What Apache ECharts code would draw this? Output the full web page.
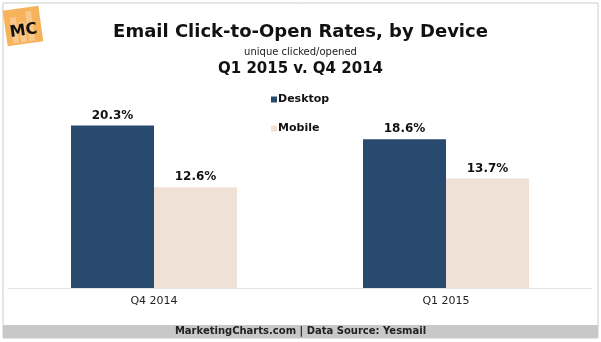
<!DOCTYPE html>
<html><head><meta charset="utf-8">
<script src="https://cdn.jsdelivr.net/npm/echarts@6/dist/echarts.min.js"></script>
<style>html,body{margin:0;padding:0;background:#fff}#c{width:601px;height:342px}</style>
</head><body><div id="c"></div>
<script>
const categories = ['Q4 2014', 'Q1 2015'];
const seriesNames = ['Desktop', 'Mobile'];
const desktopValues = [20.3, 18.6];
const mobileValues = [12.6, 13.7];

const FONT = '"DejaVu Sans", Verdana, sans-serif';
const chart = echarts.init(document.getElementById('c'), null, {renderer: 'canvas'});
const labelStyle = {show: true, position: 'top', distance: 4, fontFamily: FONT, fontWeight: 'bold', fontSize: 12, color: '#111',
  formatter: p => p.value.toFixed(1) + '%'};
chart.setOption({
  animation: false,
  backgroundColor: '#fff',
  title: [
    {text: 'Email Click-to-Open Rates, by Device', left: 'center', top: 18,
     textStyle: {fontFamily: FONT, fontWeight: 'bold', fontSize: 18, color: '#111'}},
    {text: 'unique clicked/opened', left: 'center', top: 42,
     textStyle: {fontFamily: FONT, fontWeight: 'normal', fontSize: 10, color: '#222'}},
    {text: 'Q1 2015 v. Q4 2014', left: 'center', top: 57,
     textStyle: {fontFamily: FONT, fontWeight: 'bold', fontSize: 15, color: '#111'}}
  ],
  legend: {
    orient: 'vertical', left: 271, top: 94, padding: 0, itemGap: 18, itemWidth: 6, itemHeight: 6,
    icon: 'rect', selectedMode: false,
    textStyle: {fontFamily: FONT, fontWeight: 'bold', fontSize: 11, color: '#111', padding: [0, 0, 0, -4]},
    data: seriesNames
  },
  grid: {left: 8, right: 9, top: 88, bottom: 54, containLabel: false},
  xAxis: {
    type: 'category', data: categories,
    axisLine: {show: true, lineStyle: {color: '#ddd', type: 'dotted', width: 1}},
    axisTick: {show: false},
    axisLabel: {fontFamily: FONT, fontSize: 11, color: '#222', margin: 8}
  },
  yAxis: {type: 'value', min: 0, max: 25, show: false, splitLine: {show: false}},
  series: [
    {name: seriesNames[0], type: 'bar', data: desktopValues, barWidth: 83, barGap: '0%',
     itemStyle: {color: '#284a6e'}, label: labelStyle},
    {name: seriesNames[1], type: 'bar', data: mobileValues, barWidth: 83,
     itemStyle: {color: '#f0e1d6'}, label: labelStyle}
  ],
  graphic: [
    {type: 'rect', shape: {x: 3, y: 3, width: 595, height: 335}, style: {fill: 'none', stroke: '#ccc', lineWidth: 1}, z: 0},
    {type: 'rect', shape: {x: 3, y: 325, width: 595, height: 13}, style: {fill: '#c8c8c8'}, z: 1},
    {type: 'text', left: 'center', top: 326, style: {text: 'MarketingCharts.com | Data Source: Yesmail', font: 'bold 10px ' + FONT, fill: '#222'}, z: 2},
    {type: 'group', x: 23, y: 26, rotation: 0.14, z: 3, children: [
      {type: 'rect', shape: {x: -18, y: -18, width: 36, height: 36}, style: {fill: '#f7b35c'}},
      {type: 'rect', shape: {x: -12, y: -10, width: 6, height: 26}, style: {fill: '#f9c88a'}},
      {type: 'rect', shape: {x: -4, y: -4, width: 6, height: 20}, style: {fill: '#f9c88a'}},
      {type: 'rect', shape: {x: 4, y: -14, width: 6, height: 30}, style: {fill: '#f9c88a'}},
      {type: 'text', style: {text: 'MC', x: 0, y: 5, align: 'center', verticalAlign: 'middle', font: 'bold 16px ' + FONT, fill: '#111'}}
    ]}
  ]
});
</script></body></html>
